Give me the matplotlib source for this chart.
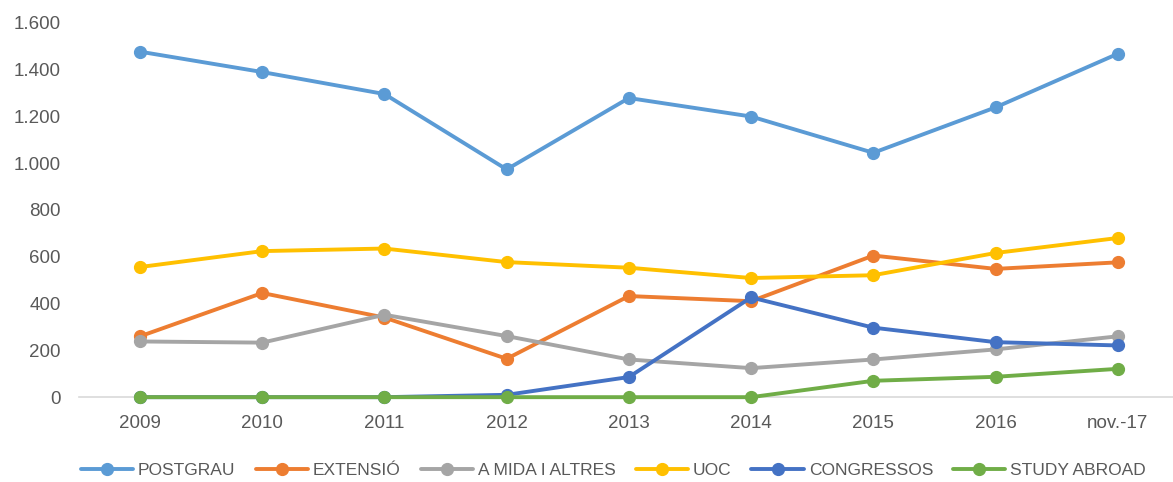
import matplotlib
matplotlib.use("Agg")
import matplotlib.pyplot as plt
from matplotlib.ticker import FuncFormatter

plt.rcParams['font.family'] = ['Liberation Sans', 'DejaVu Sans']

years = ["2009", "2010", "2011", "2012", "2013", "2014", "2015", "2016", "nov.-17"]

postgrau = [1476, 1389, 1295, 973, 1278, 1199, 1044, 1238, 1467]
extensio = [260, 445, 340, 164, 432, 410, 605, 548, 576]
a_mida = [238, 233, 352, 261, 161, 124, 161, 204, 260]
uoc = [556, 624, 635, 577, 553, 509, 521, 616, 680]
congressos = [0, 0, 0, 10, 86, 426, 297, 235, 221]
study_abroad = [0, 0, 0, 0, 0, 0, 70, 87, 121]

series = [
    ("POSTGRAU", postgrau, "#5B9BD5"),
    ("EXTENSIÓ", extensio, "#ED7D31"),
    ("A MIDA I ALTRES", a_mida, "#A5A5A5"),
    ("UOC", uoc, "#FFC000"),
    ("CONGRESSOS", congressos, "#4472C4"),
    ("STUDY ABROAD", study_abroad, "#70AD47"),
]

fig = plt.figure(figsize=(11.73, 4.82), dpi=100)
ax = fig.add_axes([0.0673, 0.176, 0.9377, 0.777])

xs = range(len(years))
for name, vals, col in series:
    ax.plot(xs, vals, color=col, lw=2.8, marker="o", ms=8.5,
            solid_capstyle="round", label=name, clip_on=False)

ax.set_xlim(-0.5, len(years) - 0.5)
ax.set_ylim(0, 1600)
ax.set_yticks(range(0, 1601, 200))
ax.yaxis.set_major_formatter(FuncFormatter(lambda v, p: f"{int(v):,}".replace(",", ".")))
ax.set_xticks(list(xs))
ax.set_xticklabels(years)

for s in ["top", "right", "left"]:
    ax.spines[s].set_visible(False)
ax.spines["bottom"].set_color("#D9D9D9")
ax.spines["bottom"].set_linewidth(1.2)
ax.spines["bottom"].set_zorder(0)
ax.tick_params(axis="both", length=0, labelsize=13.5, labelcolor="#595959")
ax.tick_params(axis="x", pad=13)
ax.tick_params(axis="y", pad=13)

fig.legend(loc="center", bbox_to_anchor=(0.523, 0.023), ncol=6, frameon=False,
           fontsize=12.5, labelcolor="#595959", handlelength=3.0,
           handletextpad=0.3, columnspacing=1.15)

fig.savefig("out.png", dpi=100)
